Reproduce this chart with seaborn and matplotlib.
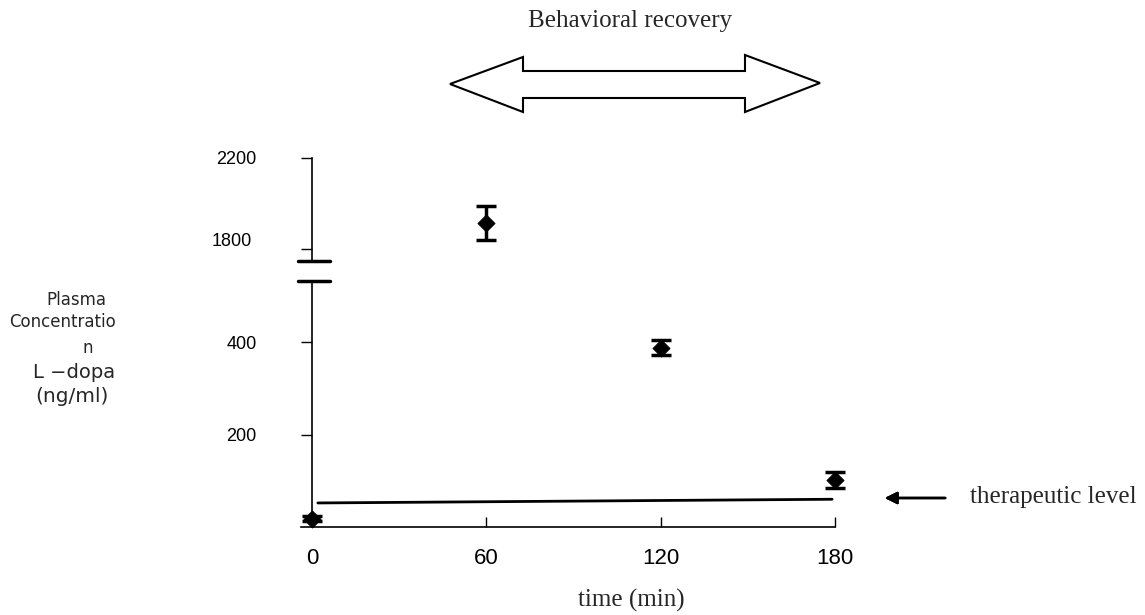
import matplotlib.pyplot as plt
import pandas as pd
import seaborn as sns
from matplotlib.patches import Polygon
from matplotlib.transforms import ScaledTranslation

# values
time_min = [0, 60, 120, 180]
conc_mean = [18, 1914, 388, 101]
conc_err = [5, 75, 16, 17]
therapeutic_x = [2, 179]
therapeutic_y = [52, 60]
x_ticks = [0, 60, 120, 180]
low_ticks = [200, 400]
high_ticks = [1800, 2200]
ylabel_lines = ['Plasma', 'Concentratio', 'n', 'L \u2212dopa', '(ng/ml)']

df = pd.DataFrame({'time': time_min, 'conc': conc_mean, 'err': conc_err})
hi = df[df['conc'] > 1000]
lo = df[df['conc'] <= 1000]

sns.set_style('white')
plt.rcParams['font.family'] = ['Liberation Sans', 'DejaVu Sans']

W, H = 1145, 615
fig = plt.figure(figsize=(W / 100, H / 100), dpi=100)


def box(l, t, r, b):
    return [l / W, 1 - b / H, (r - l) / W, (b - t) / H]


ax_hi = fig.add_axes(box(301, 158, 835, 261))
ax_lo = fig.add_axes(box(301, 281, 835, 527))

for ax, part in [(ax_hi, hi), (ax_lo, lo)]:
    sns.scatterplot(data=part, x='time', y='conc', marker='D', s=75, color='black',
                    edgecolor='black', ax=ax, legend=False, zorder=4, clip_on=False)
    eb = ax.errorbar(part['time'], part['conc'], yerr=part['err'], fmt='none',
                     ecolor='black', elinewidth=2.5, capsize=7, capthick=2.5, zorder=3)
    for a in eb.get_children():
        a.set_clip_on(False)
    ax.set_xlim(-3.8, 180)
    ax.set_xlabel('')
    ax.set_ylabel('')
    ax.set_facecolor('none')
    for s in ['top', 'right']:
        ax.spines[s].set_visible(False)
    ax.spines['left'].set_position(('data', 0))
    ax.spines['left'].set_color('black')
    ax.spines['left'].set_linewidth(1.2)
    ax.tick_params(axis='y', direction='out', length=8, width=1, pad=32,
                   labelsize=13, left=True, colors='black')

ax_hi.set_ylim(1747, 2200)
ax_hi.set_yticks(high_ticks)
ax_hi.spines['bottom'].set_visible(False)
ax_hi.set_xticks([])

ax_lo.set_ylim(0, 532)
ax_lo.set_yticks(low_ticks)
ax_lo.set_xticks(x_ticks)
ax_lo.spines['bottom'].set_color('black')
ax_lo.spines['bottom'].set_linewidth(1.2)
ax_lo.tick_params(axis='x', direction='in', length=7, width=1, pad=15,
                  labelsize=16, bottom=True, colors='black')

# the 1800 label sits a bit high and left in the original
lab = ax_hi.yaxis.get_major_ticks()[0].label1
lab.set_transform(lab.get_transform() + ScaledTranslation(-0.05, 0.09, fig.dpi_scale_trans))

# therapeutic level line
sns.lineplot(x=therapeutic_x, y=therapeutic_y, ax=ax_lo, color='black', linewidth=2)

# axis break marks
ax_lo.plot([-0.006, 0.054], [1, 1], transform=ax_lo.transAxes, color='black',
           linewidth=2.5, clip_on=False)
ax_hi.plot([-0.006, 0.054], [0, 0], transform=ax_hi.transAxes, color='black',
           linewidth=2.5, clip_on=False)

# y label, stacked lines
ylabel_pos = [(76, 300, 12), (62, 322, 12), (88, 348, 12), (74, 373, 14), (72, 397, 14.5)]
for txt, (x, y, fs) in zip(ylabel_lines, ylabel_pos):
    fig.text(x / W, 1 - y / H, txt, ha='center', va='center', fontsize=fs,
             family='DejaVu Sans')

serif = 'Liberation Serif'
fig.text(630 / W, 1 - 21 / H, 'Behavioral recovery', family=serif, fontsize=18,
         ha='center', va='center')
fig.text(631 / W, 1 - 600 / H, 'time (min)', family=serif, fontsize=18,
         ha='center', va='center')
fig.text(970 / W, 1 - 497 / H, 'therapeutic level', family=serif, fontsize=18,
         ha='left', va='center')

# hollow double arrow
arrow_px = [(450, 84), (523, 57), (523, 71), (745, 71), (745, 55), (820, 83),
            (745, 112), (745, 98), (523, 98), (523, 112)]
fig.add_artist(Polygon([(x / W, 1 - y / H) for x, y in arrow_px], closed=True,
                       facecolor='white', edgecolor='black', linewidth=1.5,
                       transform=fig.transFigure))

# arrow pointing at therapeutic line
fig.add_artist(plt.annotate('', xy=(882, H - 498), xytext=(948, H - 498),
                            xycoords='figure pixels', textcoords='figure pixels',
                            arrowprops=dict(arrowstyle='-|>', color='black', lw=1.8,
                                            mutation_scale=18)))

fig.savefig('out.png', dpi=100)
